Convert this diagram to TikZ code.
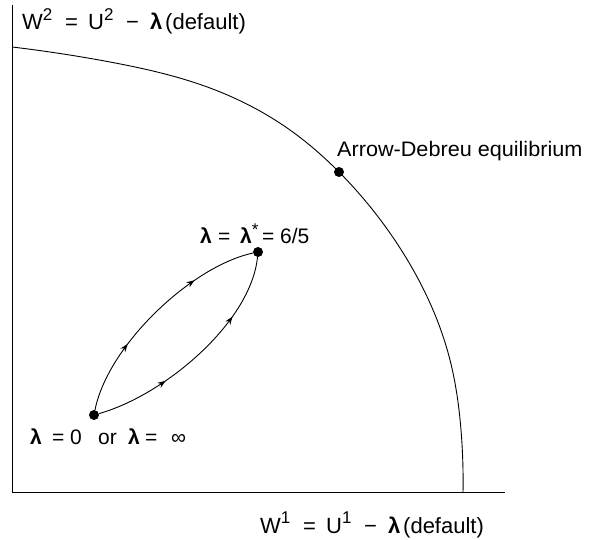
\documentclass[tikz,border=0pt]{standalone}
\usepackage{fontspec}
\usepackage{graphicx}
\setmainfont{Liberation Sans}
\usetikzlibrary{arrows.meta,decorations.markings,hobby}
\newcommand{\supr}[1]{\raisebox{0.42em}{\fontsize{17pt}{17pt}\selectfont #1}}
\newcommand{\lam}{\textbf{λ}}
\tikzset{
  lbl/.style={font=\fontsize{21pt}{24pt}\selectfont, inner sep=0pt},
  axlbl/.style={font=\fontsize{22pt}{24pt}\selectfont, inner sep=0pt},
  dot/.style={circle, fill=black, inner sep=0pt, minimum size=10pt},
  flow/.style={line width=0.9pt, postaction={decorate}, decoration={markings,
     mark=at position 0.32 with {\arrow{Stealth[length=8pt,width=6pt]}},
     mark=at position 0.72 with {\arrow{Stealth[length=8pt,width=6pt]}}}},
  axis/.style={line width=1pt}
}
\begin{document}
\begin{tikzpicture}[x=1pt,y=-1pt]
\useasboundingbox (0,0) rectangle (590,540);
% axes
\coordinate (ytop) at (12,5);
\coordinate (orig) at (12,493);
\coordinate (xend) at (505,493);
\draw[axis] (ytop) -- (orig) -- (xend);
% frontier
\draw[line width=0.9pt, use Hobby shortcut] (12,47) .. (110,62) .. (210,88) .. (290,130) .. (338,171) .. (400,248) .. (450,360) .. (461,430) .. (463,493);
% points
\node[dot] (ad) at (339,172) {};
\node[dot] (star) at (258,252) {};
\node[dot] (zero) at (94,415) {};
% paths
\draw[flow] (zero) .. controls (108,345) and (192,266) .. (star);
\draw[flow] (zero) .. controls (165,395) and (251,322) .. (star);
% labels
\node[axlbl, anchor=base west] (w2) at (22,30) {\makebox[43pt][l]{W\supr{2}}\makebox[23pt][l]{=}\makebox[38pt][l]{U\supr{2}}\makebox[24pt][l]{−}\makebox[15pt][l]{\lam}(default)};
\node[axlbl, anchor=base west] (w1) at (260,533) {\makebox[43pt][l]{W\supr{1}}\makebox[23pt][l]{=}\makebox[38pt][l]{U\supr{1}}\makebox[24pt][l]{−}\makebox[15pt][l]{\lam}(default)};
\node[lbl, anchor=base west] (adl) at (337,157) {\scalebox{1.03}[1]{Arrow-Debreu equilibrium}};
\node[lbl, anchor=base west] (sl) at (200,244) {\makebox[18pt][l]{\lam}\makebox[22pt][l]{=}\makebox[22pt][l]{\lam\supr{*}}\makebox[18pt][l]{=}6/5};
\node[lbl, anchor=base west] (zl) at (30,445) {\makebox[22pt][l]{\lam}\makebox[18pt][l]{=}\makebox[28pt][l]{0}\makebox[30pt][l]{or}\makebox[17pt][l]{\lam}\makebox[26pt][l]{=}∞};
\end{tikzpicture}
\end{document}
